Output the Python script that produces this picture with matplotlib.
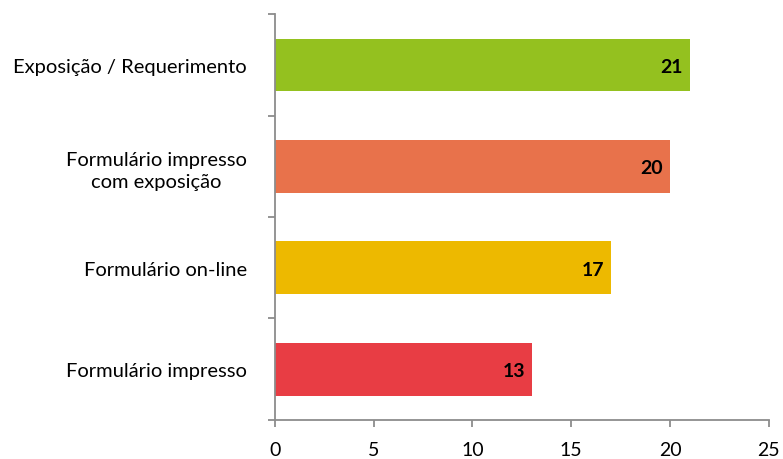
import numpy as np
import matplotlib.pyplot as plt
from matplotlib.ticker import FixedLocator

# data (bottom to top)
categories = ["Formulário impresso", "Formulário on-line",
              "Formulário impresso\ncom exposição", "Exposição / Requerimento"]
values = [13, 17, 20, 21]
colors = ["#E83D44", "#EDB900", "#E8724B", "#94C11F"]
x_ticks = [0, 5, 10, 15, 20, 25]

plt.rcParams['font.family'] = ['Lato', 'DejaVu Sans']

fig = plt.figure(figsize=(7.83, 4.60), dpi=100)
ax = fig.add_axes([0.351, 0.085, 0.631, 0.882])

y = np.arange(len(categories))
ax.barh(y, values, height=0.52, color=colors)

for yi, v in zip(y, values):
    ax.annotate(str(v), xy=(v, yi), xytext=(-5, -1), textcoords='offset points',
                ha='right', va='center', fontsize=14, fontweight='bold', color='black')

ax.set_xlim(0, 25)
ax.set_ylim(-0.5, len(categories) - 0.5)
ax.set_xticks(x_ticks)
ax.set_yticks(y)
ax.set_yticklabels(categories, multialignment='center', linespacing=1.4)
ax.yaxis.set_minor_locator(FixedLocator(np.arange(-0.5, len(categories), 1.0)))

axis_gray = '#8C8C8C'
for side in ['top', 'right']:
    ax.spines[side].set_visible(False)
for side in ['left', 'bottom']:
    ax.spines[side].set_color(axis_gray)
    ax.spines[side].set_linewidth(1.3)

ax.tick_params(axis='y', which='major', length=0, pad=20, labelsize=14.5)
ax.tick_params(axis='y', which='minor', length=5, width=1.3, color=axis_gray)
ax.tick_params(axis='x', which='major', length=5, width=1.3, color=axis_gray,
               pad=10, labelsize=14)

fig.savefig("out.png", dpi=100)
